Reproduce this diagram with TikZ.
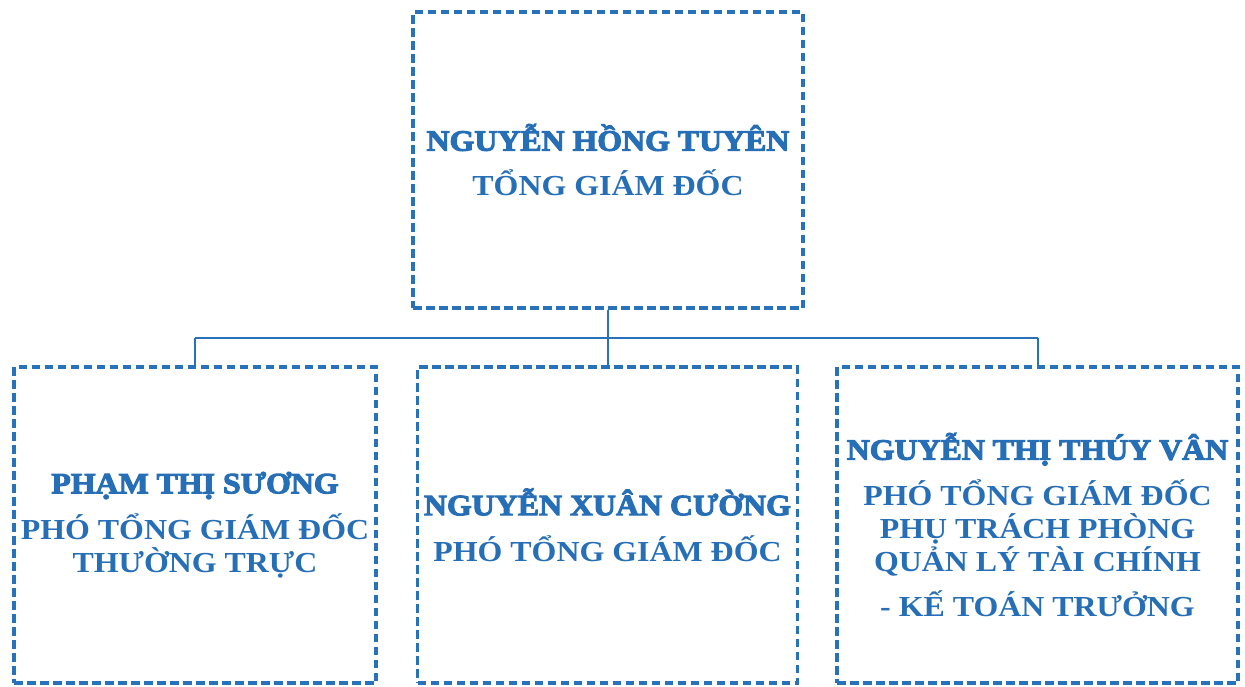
\documentclass[tikz,border=0pt]{standalone}
\usepackage{fontspec}
\setmainfont{Liberation Serif}[FakeStretch=1.1]
\newfontfamily\namefont{Liberation Serif}[FakeStretch=1.08,FakeBold=3.5]
\usetikzlibrary{calc}
\definecolor{boxblue}{RGB}{40,114,186}
\definecolor{txtblue}{RGB}{38,110,182}
\tikzset{
  orgbox/.style={draw=boxblue, line width=3.4pt, dash pattern=on 8.5pt off 4.5pt,
    inner sep=0pt, align=center, text=txtblue, font=\fontsize{29}{33}\selectfont\bfseries},
  conn/.style={draw=boxblue, line width=2pt}
}
\newcommand{\nm}[1]{{\namefont\bfseries\fontsize{29.5}{33}\selectfont #1}}
\begin{document}
\begin{tikzpicture}[x=1pt,y=-1pt]
\fill[white] (0,0) rectangle (1245,686);
\useasboundingbox (0,0) rectangle (1245,686);

\coordinate (bus) at (608,338);

\node[orgbox, minimum width=390pt, minimum height=296pt] (top) at (608,160)
  {\nm{NGUYỄN HỒNG TUYÊN}\\[12pt] TỔNG GIÁM ĐỐC};

\node[orgbox, minimum width=362pt, minimum height=316pt] (left) at (195,525)
  {\nm{PHẠM THỊ SƯƠNG}\\[13pt] PHÓ TỔNG GIÁM ĐỐC\\ THƯỜNG TRỰC};

\node[orgbox, minimum width=380pt, minimum height=316pt] (mid) at (607.5,525)
  {\nm{NGUYỄN XUÂN CƯỜNG}\\[13pt] PHÓ TỔNG GIÁM ĐỐC};

\node[orgbox, minimum width=401pt, minimum height=316pt] (right) at (1037.5,525)
  {\nm{NGUYỄN THỊ THÚY VÂN}\\[13pt] PHÓ TỔNG GIÁM ĐỐC\\ PHỤ TRÁCH PHÒNG\\ QUẢN LÝ TÀI CHÍNH\\[12pt] - KẾ TOÁN TRƯỞNG};

\draw[conn] (top.south) -- (bus);
\draw[conn] (bus -| left.north) -- (bus -| right.north);
\draw[conn] (bus -| left.north) -- (left.north);
\draw[conn] (bus -| mid.north) -- (mid.north);
\draw[conn] (bus -| right.north) -- (right.north);
\end{tikzpicture}
\end{document}
